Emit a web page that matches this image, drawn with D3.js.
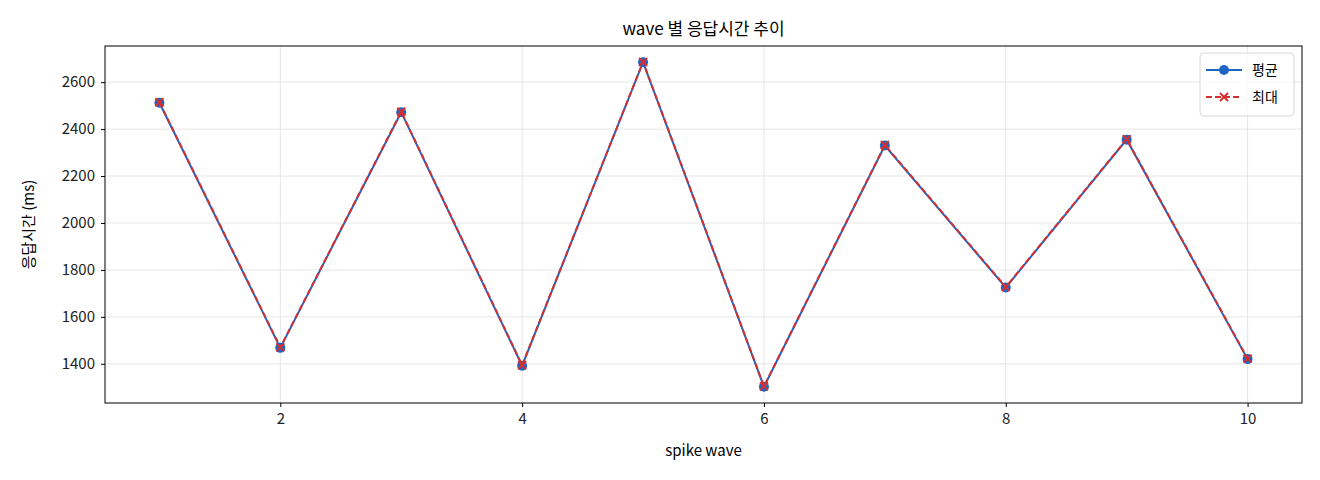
<!DOCTYPE html>
<html><head><meta charset="utf-8">
<script src="https://cdn.jsdelivr.net/npm/d3@7"></script>
<style>body{margin:0;background:#fff}text{font-family:"Noto Sans CJK KR","DejaVu Sans",sans-serif}</style>
</head><body><div id="chart"></div>
<script>
const waves = [1,2,3,4,5,6,7,8,9,10];
const avgMs = [2512,1468,2472,1392,2685,1302,2330,1725,2355,1420];
const maxMs = [2514,1470,2474,1394,2686,1304,2332,1727,2357,1422];
const yTicks = [1400,1600,1800,2000,2200,2400,2600];
const xTicks = [2,4,6,8,10];

const W = 1320, H = 480;
const m = {top: 46, left: 105, right: 18, bottom: 77};
const svg = d3.select('#chart').append('svg').attr('width', W).attr('height', H);
const x = d3.scaleLinear().domain([0.55, 10.45]).range([m.left, W - m.right]);
const y = d3.scaleLinear().domain([1233, 2754]).range([H - m.bottom, m.top]);

const g = svg.append('g');
g.selectAll('.gx').data(xTicks).enter().append('line')
  .attr('x1', d => x(d)).attr('x2', d => x(d)).attr('y1', m.top).attr('y2', H - m.bottom)
  .attr('stroke', '#e6e6e6');
g.selectAll('.gy').data(yTicks).enter().append('line')
  .attr('y1', d => y(d)).attr('y2', d => y(d)).attr('x1', m.left).attr('x2', W - m.right)
  .attr('stroke', '#e6e6e6');

const xa = svg.append('g').attr('transform', `translate(0,${H - m.bottom})`)
  .call(d3.axisBottom(x).tickValues(xTicks).tickFormat(d3.format('d')).tickSize(4).tickPadding(6));
const ya = svg.append('g').attr('transform', `translate(${m.left},0)`)
  .call(d3.axisLeft(y).tickValues(yTicks).tickFormat(d3.format('d')).tickSize(4).tickPadding(6));
[xa, ya].forEach(a => { a.selectAll('text').attr('font-size', 15).attr('fill', '#222'); a.select('.domain').remove(); });

svg.append('rect').attr('x', m.left).attr('y', m.top)
  .attr('width', W - m.left - m.right).attr('height', H - m.top - m.bottom)
  .attr('fill', 'none').attr('stroke', '#000');

const line = d3.line().x((d, i) => x(waves[i])).y(d => y(d));
svg.append('path').datum(avgMs).attr('d', line).attr('fill', 'none').attr('stroke', '#1f66c2').attr('stroke-width', 2);
svg.selectAll('.pt').data(avgMs).enter().append('circle')
  .attr('cx', (d, i) => x(waves[i])).attr('cy', d => y(d)).attr('r', 5).attr('fill', '#1f66c2');
svg.append('path').datum(maxMs).attr('d', line).attr('fill', 'none').attr('stroke', '#d62f2f')
  .attr('stroke-width', 2).attr('stroke-dasharray', '6,3');
const cross = (sel, cx, cy, s) => sel.append('path')
  .attr('d', `M${cx - s},${cy - s}L${cx + s},${cy + s}M${cx - s},${cy + s}L${cx + s},${cy - s}`)
  .attr('stroke', '#d62f2f').attr('stroke-width', 2);
maxMs.forEach((d, i) => cross(svg, x(waves[i]), y(d), 4));

svg.append('text').attr('x', (m.left + W - m.right) / 2).attr('y', 35).attr('text-anchor', 'middle')
  .attr('font-size', 17).text('wave 별 응답시간 추이');
svg.append('text').attr('x', (m.left + W - m.right) / 2).attr('y', 456).attr('text-anchor', 'middle')
  .attr('font-size', 15).text('spike wave');
svg.append('text').attr('transform', `translate(34,${(m.top + H - m.bottom) / 2}) rotate(-90)`)
  .attr('text-anchor', 'middle').attr('font-size', 15).text('응답시간 (ms)');

const lg = svg.append('g').attr('transform', 'translate(1200,53)');
lg.append('rect').attr('width', 94).attr('height', 63).attr('rx', 4)
  .attr('fill', '#fff').attr('fill-opacity', 0.8).attr('stroke', '#d8d8d8');
lg.append('line').attr('x1', 6).attr('x2', 42).attr('y1', 17).attr('y2', 17).attr('stroke', '#1f66c2').attr('stroke-width', 2);
lg.append('circle').attr('cx', 24).attr('cy', 17).attr('r', 5).attr('fill', '#1f66c2');
lg.append('line').attr('x1', 6).attr('x2', 42).attr('y1', 44).attr('y2', 44).attr('stroke', '#d62f2f')
  .attr('stroke-width', 2).attr('stroke-dasharray', '6,3');
cross(lg, 24, 44, 4);
lg.append('text').attr('x', 52).attr('y', 22).attr('font-size', 14).text('평균');
lg.append('text').attr('x', 52).attr('y', 49).attr('font-size', 14).text('최대');
</script></body></html>
